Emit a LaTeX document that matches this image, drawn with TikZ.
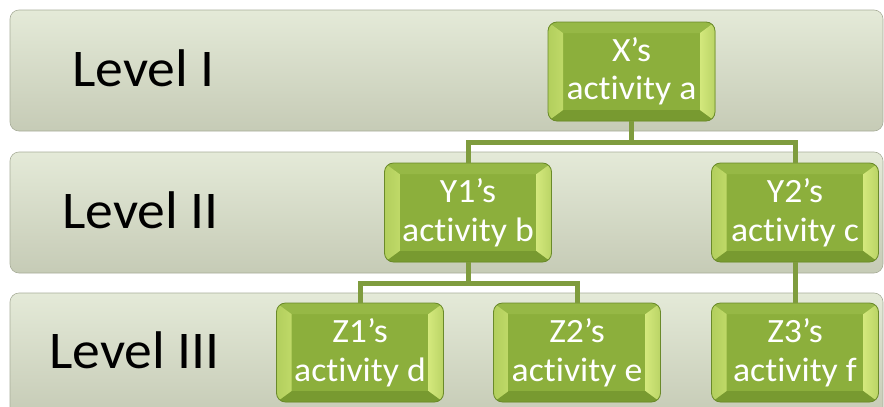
\documentclass[tikz,border=0pt]{standalone}
\usepackage{fontspec}
\setmainfont{Carlito}
\newfontfamily\lvlfont[FakeStretch=1.05,Ligatures=NoCommon]{Carlito}
\newfontfamily\boxfontfam[FakeStretch=1.05,Ligatures=NoCommon]{Carlito}
\usetikzlibrary{calc}
\definecolor{bandtop}{HTML}{E4EAD8}
\definecolor{bandbot}{HTML}{C6CBB6}
\definecolor{bandedge}{HTML}{A8AD99}
\definecolor{gmain}{HTML}{8CAF3C}
\definecolor{gtop}{HTML}{96B846}
\definecolor{gbot}{HTML}{789A30}
\definecolor{gleft}{HTML}{BFD968}
\definecolor{gright}{HTML}{D3E87C}
\definecolor{gedge}{HTML}{6A8A2A}
\definecolor{conn}{HTML}{7F9C3E}
\tikzset{
  band/.style={rounded corners=9pt, draw=bandedge, line width=0.6pt,
    top color=bandtop, bottom color=bandbot},
  lvl/.style={anchor=base west, inner sep=0pt, font=\lvlfont\fontsize{53}{60}\selectfont, text=black},
  gbox/.style={rounded corners=9pt, minimum width=167pt, minimum height=99pt,
    inner sep=0pt, draw=gedge, line width=0.8pt, fill=gmain, text=white, align=center,
    font=\boxfontfam\fontsize{34}{38.5}\selectfont,
    path picture={
      \coordinate (psw) at (path picture bounding box.south west);
      \coordinate (pne) at (path picture bounding box.north east);
      \coordinate (pnw) at (path picture bounding box.north west);
      \coordinate (pse) at (path picture bounding box.south east);
      \fill[sharp corners, gtop] (pnw) -- (pne) -- ($(pne)+(-15pt,-11pt)$) -- ($(pnw)+(15pt,-11pt)$) -- cycle;
      \fill[sharp corners, gbot] (psw) -- (pse) -- ($(pse)+(-15pt,11pt)$) -- ($(psw)+(15pt,11pt)$) -- cycle;
      \fill[sharp corners, left color=gleft!75!gmain, right color=gleft] (psw) -- (pnw) -- ($(pnw)+(15pt,-11pt)$) -- ($(psw)+(15pt,11pt)$) -- cycle;
      \fill[sharp corners, left color=gright, right color=gright!65!gmain] (pse) -- (pne) -- ($(pne)+(-15pt,-11pt)$) -- ($(pse)+(-15pt,11pt)$) -- cycle;
    }},
  link/.style={draw=conn, line width=5pt}
}
\begin{document}
\begin{tikzpicture}[x=1pt,y=-1pt]
\useasboundingbox (0,0) rectangle (884,407);
% bands
\path[band] (10,10) rectangle (883,131);
\path[band] (10,152) rectangle (883,273);
\path[band] (10,293) rectangle (883,416);
% level labels
\node[lvl] (l1) at (72,86) {Level I};
\node[lvl] (l2) at (62,228) {Level II};
\node[lvl] (l3) at (49,368) {Level III};
% boxes
\node[gbox] (x)  at (631.5,71.5) {X’s\\activity a};
\node[gbox] (y1) at (468,212.5) {Y1’s\\activity b};
\node[gbox] (y2) at (795,212.5) {Y2’s\\activity c};
\node[gbox] (z1) at (360,352.5) {Z1’s\\activity d};
\node[gbox] (z2) at (577,352.5) {Z2’s\\activity e};
\node[gbox] (z3) at (795,352.5) {Z3’s\\activity f};
% connectors
\draw[link] (x.south) |- (468,142) coordinate (j1) -- (y1.north);
\draw[link] (x.south) |- (795,142) coordinate (j2) -- (y2.north);
\draw[link] (y1.south) |- (360,283) coordinate (j3) -- (z1.north);
\draw[link] (y1.south) |- (577,283) coordinate (j4) -- (z2.north);
\draw[link] (y2.south) -- (z3.north);
\end{tikzpicture}
\end{document}
